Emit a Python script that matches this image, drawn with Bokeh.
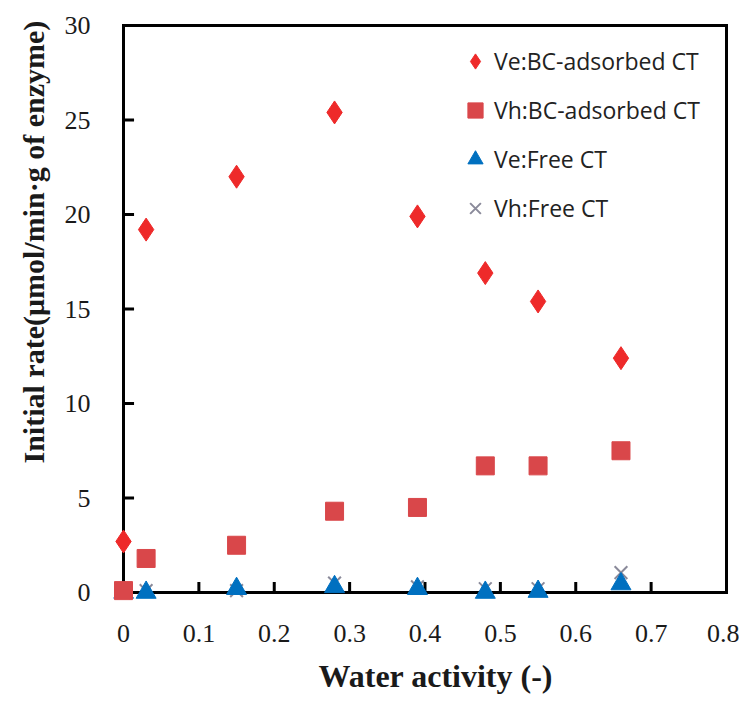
from bokeh.plotting import figure
from bokeh.models import Range1d, FixedTicker, Legend, LegendItem, ColumnDataSource, Title
from bokeh.embed import file_html
from bokeh.resources import INLINE

water_activity = [0.0, 0.03, 0.15, 0.28, 0.39, 0.48, 0.55, 0.66]
ve_bc = [2.7, 19.2, 22.0, 25.4, 19.9, 16.9, 15.4, 12.4]
vh_bc = [0.1, 1.8, 2.5, 4.3, 4.5, 6.7, 6.7, 7.5]
ve_free = [0.0, 0.0, 0.2, 0.3, 0.2, 0.0, 0.05, 0.45]
vh_free = [0.0, 0.1, 0.1, 0.5, 0.3, 0.2, 0.2, 1.05]

x_ticks = [0, 0.1, 0.2, 0.3, 0.4, 0.5, 0.6, 0.7, 0.8]
x_tick_labels = ["0", "0.1", "0.2", "0.3", "0.4", "0.5", "0.6", "0.7", "0.8"]
y_ticks = [0, 5, 10, 15, 20, 25, 30]

src = ColumnDataSource(dict(x=water_activity, ve_bc=ve_bc, vh_bc=vh_bc,
                            ve_free=ve_free, vh_free=vh_free))

x0, x1 = x_ticks[0], x_ticks[-1]
y0, y1 = y_ticks[0], y_ticks[-1]

p = figure(width=739, height=704, output_backend="svg", toolbar_location=None,
           x_range=Range1d(x0 - 0.01327, x1 + 0.00398),
           y_range=Range1d(y0 - 0.529, y1 + 0.159),
           min_border_left=113, min_border_top=22, min_border_right=10,
           min_border_bottom=102)

p.xgrid.visible = False
p.ygrid.visible = False
p.outline_line_color = None
p.background_fill_color = "white"
p.border_fill_color = "white"

serif = "Liberation Serif"
for ax in (p.xaxis[0], p.yaxis[0]):
    ax.axis_line_color = None
    ax.major_tick_line_color = None
    ax.minor_tick_line_color = None
    ax.major_label_text_font = serif
    ax.major_label_text_font_size = "26px"
    ax.major_label_text_color = "#1a1a1a"
p.yaxis.major_label_standoff = 17
p.xaxis.major_label_standoff = 16

p.xaxis.ticker = FixedTicker(ticks=x_ticks)
p.xaxis.major_label_overrides = {t: l for t, l in zip(x_ticks, x_tick_labels)}
p.yaxis.ticker = FixedTicker(ticks=y_ticks)

# frame box and inward ticks
xt = x_ticks[1:-1]
yt = y_ticks[1:-1]
tick_src = ColumnDataSource(dict(
    xs=[x0, x0, x0, x1] + xt + [x0] * len(yt),
    ys=[y0, y0, y1, y0] + [y0] * len(xt) + yt,
    xe=[x1, x0, x1, x1] + xt + [x0 + 0.012] * len(yt),
    ye=[y0, y1, y1, y1] + [y0 + 0.48] * len(xt) + yt,
))
p.segment(x0="xs", y0="ys", x1="xe", y1="ye", source=tick_src,
          line_color="black", line_width=3, line_cap="square")

r_vhf = p.scatter("x", "vh_free", source=src, marker="x", size=18,
                  line_color="#8a8a9a", line_width=2)
r_vef = p.scatter("x", "ve_free", source=src, marker="triangle", size=20,
                  fill_color="#0070c0", line_color="#0070c0")
r_vhb = p.scatter("x", "vh_bc", source=src, marker="square", size=18,
                  fill_color="#d9474a", line_color="#d9474a")
r_veb = p.scatter("x", "ve_bc", source=src, marker="diamond", size=23,
                  fill_color="#ee2a2a", line_color="#ee2a2a")

legend = Legend(items=[
    LegendItem(label="Ve:BC-adsorbed CT", renderers=[r_veb]),
    LegendItem(label="Vh:BC-adsorbed CT", renderers=[r_vhb]),
    LegendItem(label="Ve:Free CT", renderers=[r_vef]),
    LegendItem(label="Vh:Free CT", renderers=[r_vhf]),
], location=(343, 374))
legend.border_line_color = None
legend.background_fill_alpha = 0
legend.label_text_font = "Open Sans"
legend.label_text_font_size = "23px"
legend.label_text_color = "#222222"
legend.spacing = 9
legend.glyph_width = 38
legend.glyph_height = 40
legend.label_standoff = 0
legend.margin = 0
legend.padding = 0
p.add_layout(legend)

ylab = Title(text="Initial rate(μmol/min·g of enzyme)", align="left", offset=139,
             text_font=serif, text_font_style="bold", text_font_size="30px",
             text_color="#1a1a1a", standoff=24)
p.add_layout(ylab, "left")
xlab = Title(text="Water activity (-)", align="left", offset=205,
             text_font=serif, text_font_style="bold", text_font_size="32px",
             text_color="#1a1a1a", standoff=22)
p.add_layout(xlab, "below")

open("out.html", "w").write(file_html(p, INLINE))
